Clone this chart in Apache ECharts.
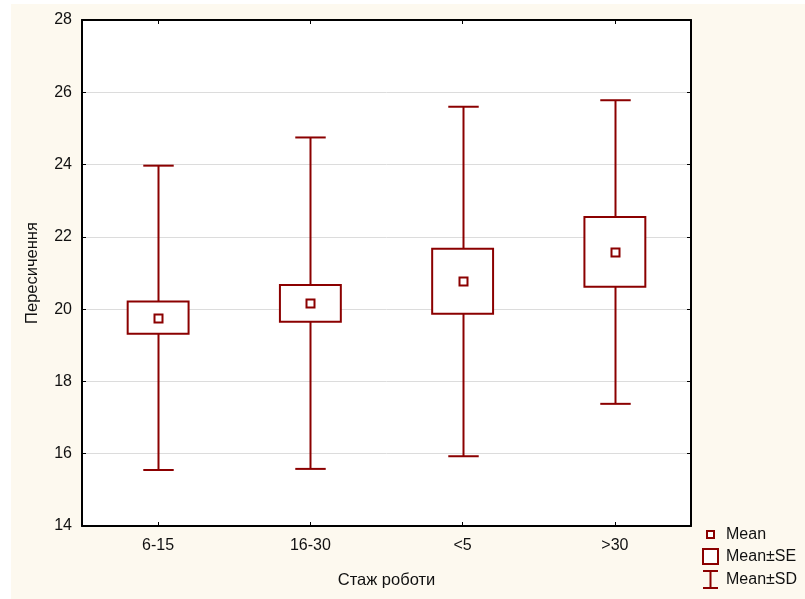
<!DOCTYPE html>
<html><head><meta charset="utf-8">
<script src="https://cdn.jsdelivr.net/npm/echarts@6/dist/echarts.min.js"></script>
<style>html,body{margin:0;padding:0;background:#fff}#c{width:805px;height:599px}</style>
</head><body><div id="c"></div>
<script>
const categories = ['6-15', '16-30', '<5', '>30'];
const means = [19.76, 20.16, 20.77, 21.59];
const seLow = [19.32, 19.65, 19.87, 20.62];
const seHigh = [20.21, 20.67, 21.67, 22.55];
const sdLow = [15.55, 15.58, 15.93, 17.38];
const sdHigh = [23.97, 24.75, 25.60, 25.78];
const yTicks = [14, 16, 18, 20, 22, 24, 26, 28];

const RED = '#8b0000';
const FONT = 'Liberation Sans, Arial, sans-serif';
const chart = echarts.init(document.getElementById('c'));

const sdData = categories.map((c, i) => [i, sdLow[i], sdHigh[i], seLow[i], seHigh[i]]);
const seData = categories.map((c, i) => [i, seLow[i], seHigh[i]]);
const meanData = categories.map((c, i) => [i, means[i]]);

chart.setOption({
  backgroundColor: '#fff',
  animation: false,
  graphic: [
    { type: 'rect', z: -10, silent: true, shape: { x: 11, y: 4, width: 794, height: 595 }, style: { fill: '#fdf9ef' } },
    { type: 'rect', z: -9, silent: true, shape: { x: 82, y: 20, width: 609, height: 506 }, style: { fill: '#ffffff' } },
    // legend
    { type: 'rect', shape: { x: 707, y: 531, width: 7, height: 7 }, style: { fill: '#fff', stroke: RED, lineWidth: 2 } },
    { type: 'text', style: { x: 726, y: 535, text: 'Mean', font: '16px ' + FONT, fill: '#111', verticalAlign: 'middle' } },
    { type: 'rect', shape: { x: 703, y: 549, width: 15, height: 15 }, style: { fill: '#fff', stroke: RED, lineWidth: 2 } },
    { type: 'text', style: { x: 726, y: 557, text: 'Mean±SE', font: '16px ' + FONT, fill: '#111', verticalAlign: 'middle' } },
    { type: 'polyline', shape: { points: [[703, 571], [718, 571]] }, style: { stroke: RED, lineWidth: 2 } },
    { type: 'polyline', shape: { points: [[710.5, 571], [710.5, 588]] }, style: { stroke: RED, lineWidth: 2 } },
    { type: 'polyline', shape: { points: [[703, 588], [718, 588]] }, style: { stroke: RED, lineWidth: 2 } },
    { type: 'text', style: { x: 726, y: 580, text: 'Mean±SD', font: '16px ' + FONT, fill: '#111', verticalAlign: 'middle' } }
  ],
  grid: { left: 82, top: 20, width: 609, height: 506, containLabel: false },
  xAxis: [
    {
      type: 'category', data: categories, position: 'bottom',
      boundaryGap: true,
      name: 'Стаж роботи', nameLocation: 'middle', nameGap: 46,
      nameTextStyle: { fontFamily: FONT, fontSize: 16.5, color: '#111' },
      axisLine: { show: true, lineStyle: { color: '#000', width: 2 } },
      axisTick: { show: true, inside: true, alignWithLabel: true, length: 4, lineStyle: { color: '#000', width: 1 } },
      axisLabel: { fontFamily: FONT, fontSize: 16, color: '#111', margin: 12 },
      splitLine: { show: false }
    },
    {
      type: 'category', data: categories, position: 'top',
      boundaryGap: true,
      axisLine: { show: true, lineStyle: { color: '#000', width: 2 } },
      axisTick: { show: true, inside: true, alignWithLabel: true, length: 4, lineStyle: { color: '#000', width: 1 } },
      axisLabel: { show: false }, splitLine: { show: false }
    }
  ],
  yAxis: [
    {
      type: 'value', min: yTicks[0], max: yTicks[yTicks.length - 1], interval: 2, position: 'left',
      name: 'Пересичення', nameLocation: 'middle', nameGap: 41, nameRotate: 90,
      nameTextStyle: { fontFamily: FONT, fontSize: 16.5, color: '#111' },
      axisLine: { show: true, lineStyle: { color: '#000', width: 2 } },
      axisTick: { show: true, inside: true, length: 4, lineStyle: { color: '#000', width: 1 } },
      axisLabel: { fontFamily: FONT, fontSize: 16, color: '#111', margin: 10 },
      splitLine: { show: true, lineStyle: { color: '#dcdcdc', width: 1 } }
    },
    {
      type: 'value', min: yTicks[0], max: yTicks[yTicks.length - 1], interval: 2, position: 'right',
      axisLine: { show: true, lineStyle: { color: '#000', width: 2 } },
      axisTick: { show: true, inside: true, length: 4, lineStyle: { color: '#000', width: 1 } },
      axisLabel: { show: false }, splitLine: { show: false }
    }
  ],
  series: [
    {
      name: 'Mean±SD', type: 'custom', xAxisIndex: 0, yAxisIndex: 0, z: 2,
      data: sdData,
      renderItem: function (params, api) {
        const x = api.value(0);
        const top = api.coord([x, api.value(2)]);
        const bot = api.coord([x, api.value(1)]);
        const bTop = api.coord([x, api.value(4)]);
        const bBot = api.coord([x, api.value(3)]);
        const band = api.size([1, 0])[0];
        const half = band * 0.1;
        const cx = Math.round(top[0]) + 0.5;
        const st = { stroke: RED, lineWidth: 2, fill: null };
        return {
          type: 'group', children: [
            { type: 'line', shape: { x1: cx, y1: top[1], x2: cx, y2: bTop[1] }, style: st },
            { type: 'line', shape: { x1: cx, y1: bBot[1], x2: cx, y2: bot[1] }, style: st },
            { type: 'line', shape: { x1: cx - half, y1: top[1], x2: cx + half, y2: top[1] }, style: st },
            { type: 'line', shape: { x1: cx - half, y1: bot[1], x2: cx + half, y2: bot[1] }, style: st }
          ]
        };
      }
    },
    {
      name: 'Mean±SE', type: 'custom', xAxisIndex: 0, yAxisIndex: 0, z: 3,
      data: seData,
      renderItem: function (params, api) {
        const x = api.value(0);
        const t = api.coord([x, api.value(2)]);
        const b = api.coord([x, api.value(1)]);
        const band = api.size([1, 0])[0];
        const w = band * 0.4;
        return {
          type: 'rect',
          shape: { x: t[0] - w / 2, y: t[1], width: w, height: b[1] - t[1] },
          style: { fill: '#fff', stroke: RED, lineWidth: 2 }
        };
      }
    },
    {
      name: 'Mean', type: 'custom', xAxisIndex: 0, yAxisIndex: 0, z: 4,
      data: meanData,
      renderItem: function (params, api) {
        const p = api.coord([api.value(0), api.value(1)]);
        const cx = Math.round(p[0]), cy = Math.round(p[1]);
        return {
          type: 'rect',
          shape: { x: cx - 3.5, y: cy - 3.5, width: 8, height: 8 },
          style: { fill: '#fff', stroke: RED, lineWidth: 2 }
        };
      }
    }
  ]
});
</script>
</body></html>
